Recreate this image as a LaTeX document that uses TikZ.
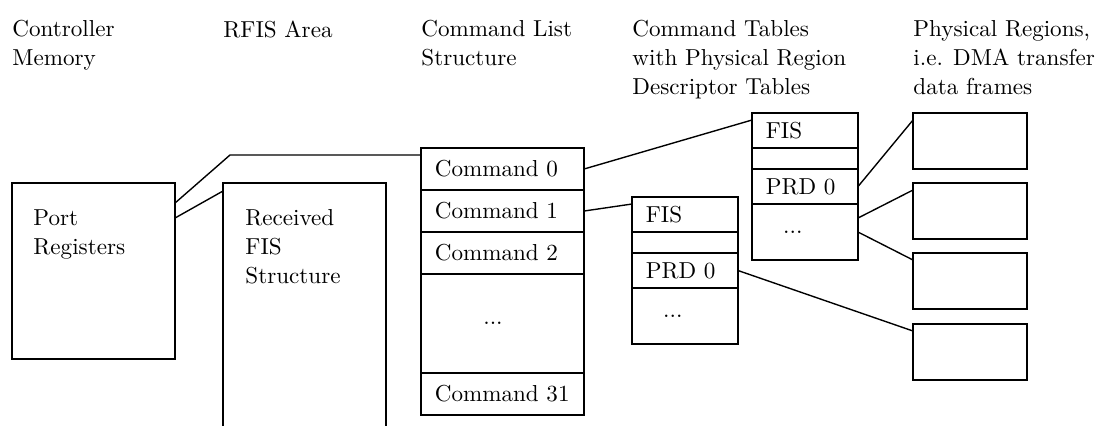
\documentclass[tikz,border=0pt]{standalone}
\usepackage{tikz}
\usetikzlibrary{calc,positioning}

\begin{document}
\begin{tikzpicture}[x=0.433pt,y=-0.433pt,
    every node/.style={font=\fontsize{10pt}{12.6pt}\selectfont},
    zelle/.style={draw, semithick, anchor=north west, inner xsep=6pt, inner ysep=0pt, outer sep=0pt, align=left},
    liste/.style={zelle, text width=58.6pt},
    tabelle/.style={zelle, text width=33.9pt},
    bereich/.style={draw, semithick, anchor=north west, outer sep=0pt, minimum width=49.4pt, minimum height=24.25pt},
    titel/.style={anchor=north west, inner sep=0pt, align=left}]
    \useasboundingbox (0,0) rectangle (1096,425);

    % Ueberschriften
    \node[titel] (T1) at (12,20) {Controller\\Memory};
    \node[titel] (T2) at (223,20) {RFIS Area};
    \node[titel] (T3) at (421,20) {Command List\\Structure};
    \node[titel] (T4) at (632,20) {Command Tables\\with Physical Region\\Descriptor Tables};
    \node[titel] (T5) at (913,20) {Physical Regions,\\i.e. DMA transfer\\data frames};

    % Port-Register und RFIS-Bereich
    \node[draw, semithick, anchor=north west, outer sep=0pt, minimum width=70.6pt, minimum height=76.2pt] (portreg) at (12,183) {};
    \node[titel] (portregtext) at (33,209) {Port\\Registers};
    \node[draw, semithick, anchor=north west, outer sep=0pt, minimum width=70.6pt, minimum height=112pt] (rfis) at (223,183) {};
    \node[titel] (rfistext) at (245,209) {Received\\FIS\\Structure};

    % Kommandoliste
    \node[liste, minimum height=18.19pt] (cmd0) at (421,148) {Command 0};
    \node[liste, minimum height=18.19pt, below=0pt of cmd0] (cmd1) {Command 1};
    \node[liste, minimum height=18.19pt, below=0pt of cmd1] (cmd2) {Command 2};
    \node[liste, minimum height=42.87pt, below=0pt of cmd2] (cmdx) {\hspace*{21pt}...};
    \node[liste, minimum height=18.19pt, below=0pt of cmdx] (cmd31) {Command 31};

    % Kommandotabelle zu Command 0
    \node[tabelle, minimum height=15.16pt] (tabA-fis) at (752,113) {FIS};
    \node[tabelle, minimum height=9.09pt, below=0pt of tabA-fis] (tabA-leer) {};
    \node[tabelle, minimum height=15.16pt, below=0pt of tabA-leer] (tabA-prd) {PRD 0};
    \node[tabelle, minimum height=24.25pt, below=0pt of tabA-prd] (tabA-dots) {\hspace*{7.5pt}...};

    % Kommandotabelle zu Command 1
    \node[tabelle, minimum height=15.16pt] (tabB-fis) at (632,197) {FIS};
    \node[tabelle, minimum height=9.09pt, below=0pt of tabB-fis] (tabB-leer) {};
    \node[tabelle, minimum height=15.16pt, below=0pt of tabB-leer] (tabB-prd) {PRD 0};
    \node[tabelle, minimum height=24.25pt, below=0pt of tabB-prd] (tabB-dots) {\hspace*{7.5pt}...};

    % Physikalische Bereiche
    \node[bereich] (bereich1) at (913,113) {};
    \node[bereich] (bereich2) at (913,183) {};
    \node[bereich] (bereich3) at (913,253) {};
    \node[bereich] (bereich4) at (913,324) {};

    % Verbindungen
    \coordinate (knick) at (230,155);
    \draw[semithick] ($(portreg.north east)+(0,20)$) -- (knick) -- (knick -| cmd0.west);
    \draw[semithick] ($(portreg.north east)+(0,35)$) -- ($(rfis.north west)+(0,8)$);
    \draw[semithick] (cmd0.east) -- ($(tabA-fis.north west)+(0,7)$);
    \draw[semithick] (cmd1.east) -- ($(tabB-fis.north west)+(0,7)$);
    \draw[semithick] (tabA-prd.east) -- ($(bereich1.north west)+(0,7)$);
    \draw[semithick] ($(tabA-dots.north east)+(0,14)$) -- ($(bereich2.north west)+(0,7)$);
    \draw[semithick] (tabA-dots.east) -- ($(bereich3.north west)+(0,7)$);
    \draw[semithick] (tabB-prd.east) -- ($(bereich4.north west)+(0,7)$);

\end{tikzpicture}
\end{document}
